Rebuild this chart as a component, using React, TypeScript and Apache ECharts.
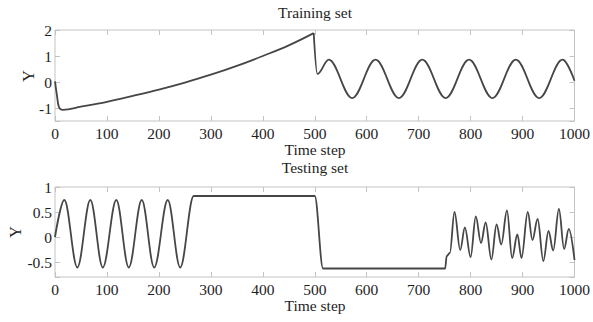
import React, { useEffect, useRef } from 'react';
import * as echarts from 'echarts';

// Training set: slow rise (0..498)
const trainRampT = [0, 4, 8, 15, 50, 100, 150, 200, 250, 300, 350, 400, 450, 498];
const trainRampY = [0.02, -0.55, -0.98, -1.07, -0.95, -0.76, -0.53, -0.29, -0.02, 0.28, 0.62, 1.0, 1.41, 1.88];
// Training set: oscillation after the drop (peaks / troughs)
const trainOscT = [498, 505, 527, 572, 617, 662, 707, 752, 797, 842, 887, 932, 977, 1000];
const trainOscY = [1.88, 0.31, 0.86, -0.62, 0.86, -0.62, 0.86, -0.62, 0.86, -0.62, 0.86, -0.62, 0.86, 0.05];
// Testing set (peaks / troughs / plateau corners)
const testT = [0, 18, 43, 68, 92, 118, 142, 167, 191, 217, 241, 267, 500, 516, 751, 754, 760,
  769, 780, 789, 800, 810, 820, 829, 840, 850, 859, 870, 880, 890, 898, 910, 919, 929, 940, 950, 959, 970, 980, 989, 1000];
const testY = [0.0, 0.74, -0.61, 0.74, -0.61, 0.74, -0.61, 0.74, -0.61, 0.74, -0.61, 0.82, 0.82, -0.63, -0.63, -0.38, -0.32,
  0.5, -0.26, 0.19, -0.4, 0.41, -0.12, 0.29, -0.45, 0.25, -0.15, 0.53, -0.42, 0.05, -0.42, 0.5, -0.06, 0.36, -0.48, 0.12, -0.27, 0.56, -0.24, 0.16, -0.46];

const titles = ['Training set', 'Testing set'];
const xName = 'Time step';
const yName = 'Y';

const FONT = '"Liberation Serif", "Times New Roman", serif';
const TXT = '#1e1e1e';
const BOX = '#c3c3c3';
const LINE = '#464646';

export default function App() {
  const ref = useRef<HTMLDivElement>(null);
  useEffect(() => {
    const chart = echarts.init(ref.current!, null, { renderer: 'svg' });
    const pair = (t: number[], y: number[]) => t.map((v, i) => [v, y[i]]);
    const tick = { inside: true, length: 5, lineStyle: { color: BOX, width: 1 } };
    const label = (show: boolean, extra: any = {}) => ({ show, color: TXT, fontFamily: FONT, fontSize: 15.5, ...extra });
    const xAx = (gridIndex: number, position: string, show: boolean) => ({
      type: 'value', gridIndex, position, min: 0, max: 1000, interval: 100,
      axisLine: { show: false, onZero: false }, splitLine: { show: false }, axisTick: tick,
      axisLabel: label(show, { margin: 4, formatter: (v: number) => String(v) }),
    });
    const intFmt = (v: number) => (Number.isInteger(v) ? String(v) : '');
    const halfFmt = (v: number) => (Math.abs(v * 2 - Math.round(v * 2)) < 1e-6 ? String(Math.round(v * 2) / 2) : '');
    const yAx = (gridIndex: number, position: string, show: boolean, min: number, max: number, split: number, fmt: any) => ({
      type: 'value', gridIndex, position, min, max, splitNumber: split,
      axisLine: { show: false, onZero: false }, splitLine: { show: false }, axisTick: tick,
      axisLabel: label(show, { margin: 3, formatter: fmt }),
    });
    const lineSeries = (xi: number, data: number[][], smooth: number, mono?: string) => ({
      type: 'line', xAxisIndex: xi, yAxisIndex: xi, data, smooth, smoothMonotone: mono,
      showSymbol: false, silent: true, lineStyle: { color: LINE, width: 1.8 },
    });
    const txt = (text: string, x: number, y: number, size: number, rot = 0) => ({
      type: 'text', x, y, rotation: rot, silent: true,
      style: {
        text, fill: TXT, fontFamily: FONT, fontSize: size, font: `${size}px ${FONT}`,
        align: 'center', verticalAlign: 'middle', textAlign: 'center', textVerticalAlign: 'middle',
      },
    });
    chart.setOption({
      animation: false,
      backgroundColor: '#ffffff',
      grid: [
        { left: 55, top: 30, width: 521, height: 91, show: true, borderColor: BOX, borderWidth: 1, backgroundColor: 'transparent' },
        { left: 55, top: 187, width: 521, height: 90, show: true, borderColor: BOX, borderWidth: 1, backgroundColor: 'transparent' },
      ],
      xAxis: [xAx(0, 'bottom', true), xAx(0, 'top', false), xAx(1, 'bottom', true), xAx(1, 'top', false)],
      yAxis: [
        yAx(0, 'left', true, -1.5, 2, 4, intFmt), yAx(0, 'right', false, -1.5, 2, 4, intFmt),
        yAx(1, 'left', true, -0.8, 1, 3, halfFmt), yAx(1, 'right', false, -0.8, 1, 3, halfFmt),
      ],
      series: [
        lineSeries(0, pair(trainRampT, trainRampY), 0.4),
        lineSeries(0, pair(trainOscT, trainOscY), 0.36, 'x'),
        lineSeries(2, pair(testT, testY), 0.36, 'x'),
      ],
      graphic: [
        txt(titles[0], 315, 12, 15.5),
        txt(xName, 315, 149, 15.5),
        txt(titles[1], 315, 167, 15.5),
        txt(xName, 315, 305, 15.5),
        txt(yName, 28, 76, 16.5, Math.PI / 2),
        txt(yName, 15, 232, 16.5, Math.PI / 2),
      ],
    });
    return () => chart.dispose();
  }, []);
  return <div ref={ref} style={{ position: 'absolute', left: 0, top: 0, width: 593, height: 322, background: '#fff' }} />;
}
